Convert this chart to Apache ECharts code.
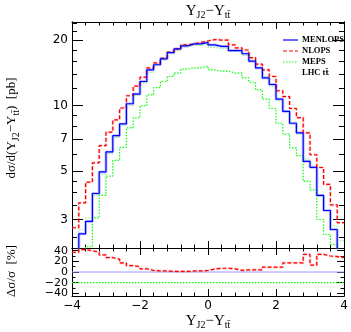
<!DOCTYPE html>
<html>
<head>
<meta charset="utf-8">
<script src="https://cdn.jsdelivr.net/npm/echarts@6.0.0/dist/echarts.min.js"></script>
<style>
  html, body { margin: 0; padding: 0; background: #fff; }
  #chart { width: 351px; height: 332px; }
</style>
</head>
<body>
<div id="chart"></div>
<script>
// 40 bins, width 0.2, from -4 to 4
var binLow = -4;
var binWidth = 0.2;

// d sigma / d(Y_J2 - Y_ttbar) [pb]
var menlops = [2.0, 2.58, 2.94, 3.95, 4.96, 6.13, 7.28, 8.24, 10.2, 11.3,
               12.9, 14.6, 15.4, 16.4, 17.5, 18.2, 18.8, 19.2, 19.2, 19.5,
               19.0, 18.7, 18.7, 17.9, 17.9, 17.3, 16.0, 14.9, 13.4, 12.5,
               10.7, 9.4, 8.3, 7.5, 5.55, 5.21, 3.87, 3.30, 2.70, 2.1];
var nlops = [2.75, 3.58, 4.45, 5.46, 6.55, 7.55, 8.6, 9.75, 11.1, 12.3,
             13.5, 14.9, 15.7, 16.5, 17.6, 18.2, 19.0, 19.2, 19.5, 19.8,
             20.1, 20.0, 20.0, 19.0, 18.4, 18.0, 16.6, 15.5, 14.6, 13.6,
             11.7, 11.0, 9.7, 8.8, 7.5, 5.95, 5.2, 4.35, 3.5, 2.9];
var meps = [1.8, 2.15, 2.25, 3.05, 3.87, 4.75, 5.6, 6.43, 7.9, 8.78,
            10.0, 11.2, 12.1, 12.9, 13.6, 14.1, 14.7, 14.9, 14.9, 15.2,
            14.6, 14.4, 14.4, 14.1, 14.1, 13.4, 12.8, 11.8, 10.7, 9.7,
            8.3, 7.4, 6.4, 5.9, 4.5, 4.1, 3.0, 2.56, 2.3, 2.0];
// pale dotted curve lying on top of MENLOPS
var mepsNorm = [2.05, 2.7, 3.05, 3.85, 4.85, 6.0, 7.15, 8.2, 10.0, 11.1,
                12.7, 14.2, 15.3, 16.2, 17.3, 17.9, 18.6, 18.9, 18.9, 19.2,
                18.5, 18.3, 18.3, 17.9, 17.8, 17.0, 16.2, 15.0, 13.6, 12.3,
                10.5, 9.4, 8.4, 7.4, 5.7, 5.2, 3.85, 3.3, 2.8, 2.4];

// lower panel, delta sigma / sigma [%]
var nlopsDev = [37, 42, 40, 37, 32, 27, 24, 17, 12, 10,
                6, 3, 2, 2, 1, 1, 1, 2, 2, 3,
                5.5, 7, 7, 6, 3, 4, 4, 4, 9, 9,
                9, 17, 17, 17, 33, 13, 33, 30, 29, 27];
var menlopsDev = 0;
var mepsDev = -20;

// ticks
var mainLabels = [3, 5, 7, 10, 20];
var mainMinor = [2.5, 3.5, 4, 4.5, 6, 8, 9, 12, 14, 16, 18, 22, 24];
var devLabelsA = [-40, 0, 40];
var devLabelsB = [-20, 20];
var devMajor = [-40, -20, 0, 20, 40];
var devMinor = [-30, -10, 10, 30];

function stepData(vals) {
    var d = [];
    for (var i = 0; i < vals.length; i++) {
        d.push([+(binLow + i * binWidth).toFixed(2), vals[i]]);
    }
    d.push([+(binLow + vals.length * binWidth).toFixed(2), vals[vals.length - 1]]);
    return d;
}
function flatData(v) {
    return [[binLow, v], [+(binLow + menlops.length * binWidth).toFixed(2), v]];
}

var black = '#000';
function minus(v) { return v < 0 ? '\u2212' + (-v) : '' + v; }

function xAx(grid, pos, labels) {
    return {
        type: 'value', gridIndex: grid, position: pos, min: -4, max: 4, interval: 2,
        axisLine: { show: true, onZero: false, lineStyle: { color: black, width: 1 } },
        axisTick: { show: true, inside: true, length: 7, lineStyle: { color: black } },
        minorTick: { show: true, splitNumber: 5, length: 3.5, lineStyle: { color: black } },
        axisLabel: labels ? { show: true, margin: 4, hideOverlap: false, showMinLabel: true, showMaxLabel: true,
            formatter: minus, color: black, fontFamily: 'DejaVu Sans', fontSize: 12 } : { show: false },
        splitLine: { show: false }
    };
}
function yAx(grid, pos, type, min, max, ticks, len, labels, fs) {
    return {
        type: type, gridIndex: grid, position: pos, min: min, max: max,
        axisLine: { show: true, onZero: false, lineStyle: { color: black, width: 1 } },
        axisTick: { show: true, inside: true, length: len, customValues: ticks, lineStyle: { color: black } },
        axisLabel: labels ? { show: true, margin: 4, customValues: labels, hideOverlap: false,
            showMinLabel: true, showMaxLabel: true, formatter: minus, color: black,
            fontFamily: 'DejaVu Sans', fontSize: fs } : { show: false },
        splitLine: { show: false }
    };
}

function stepLine(name, vals, x, y, color, width, type, z) {
    return {
        name: name, type: 'line', xAxisIndex: x, yAxisIndex: y, step: 'end',
        data: stepData(vals), symbol: 'none', silent: true, animation: false, z: z,
        lineStyle: { color: color, width: width, type: type }
    };
}

var sub = { fontFamily: 'Liberation Serif', fontSize: 10, padding: [9, 0, 0, 0] };
var big = { fontFamily: 'Liberation Serif', fontSize: 15, fill: black };
var mid = { fontFamily: 'Liberation Serif', fontSize: 13, fill: black };
var legendFont = { verticalAlign: 'middle', fontFamily: 'Liberation Serif', fontWeight: 'bold', fontSize: 8.5, fill: black };

var myChart = echarts.init(document.getElementById('chart'));
var option = {
    backgroundColor: '#fff',
    animation: false,
    grid: [
        { left: 72, top: 22, width: 272, height: 226, outerBoundsMode: 'none' },
        { left: 72, top: 248, width: 272, height: 48, outerBoundsMode: 'none' }
    ],
    xAxis: [
        xAx(0, 'bottom', false), xAx(0, 'top', false),
        xAx(1, 'bottom', true), xAx(1, 'top', false)
    ],
    yAxis: [
        yAx(0, 'left', 'log', 2.22, 24.2, mainLabels, 11, mainLabels, 12),
        yAx(0, 'left', 'log', 2.22, 24.2, mainMinor, 5, null),
        yAx(0, 'right', 'log', 2.22, 24.2, mainLabels, 11, null),
        yAx(0, 'right', 'log', 2.22, 24.2, mainMinor, 5, null),
        yAx(1, 'left', 'value', -45, 45, devMajor, 7, devLabelsA, 11),
        yAx(1, 'left', 'value', -45, 45, devMinor, 3.5, devLabelsB, 11),
        yAx(1, 'right', 'value', -45, 45, devMajor, 7, null),
        yAx(1, 'right', 'value', -45, 45, devMinor, 3.5, null)
    ],
    series: [
        stepLine('MENLOPS band', menlops, 0, 0, 'rgba(100,100,255,0.4)', 3, 'solid', 1),
        stepLine('NLOPS band', nlops, 0, 0, 'rgba(255,60,60,0.3)', 2.5, [4, 2], 1),
        stepLine('MEPS norm', mepsNorm, 0, 0, '#9cf09c', 1.2, [1.5, 1.5], 2),
        stepLine('MEPS', meps, 0, 0, '#00ff00', 1.2, [1.5, 1.5], 3),
        stepLine('NLOPS', nlops, 0, 0, '#ff0000', 1.2, [4, 2], 4),
        stepLine('MENLOPS', menlops, 0, 0, '#0000ff', 1.2, 'solid', 5),
        {
            type: 'line', xAxisIndex: 2, yAxisIndex: 4, data: flatData(menlopsDev),
            symbol: 'none', silent: true, z: 2, lineStyle: { color: '#9a9aff', width: 1 }
        },
        {
            type: 'line', xAxisIndex: 2, yAxisIndex: 4, data: flatData(mepsDev),
            symbol: 'none', silent: true, z: 3, lineStyle: { color: '#00ff00', width: 1.2, type: [1.5, 1.5] }
        },
        stepLine('NLOPS dev band', nlopsDev, 2, 4, 'rgba(255,60,60,0.3)', 2.5, [4, 2], 3),
        stepLine('NLOPS dev', nlopsDev, 2, 4, '#ff0000', 1.2, [4, 2], 4)
    ],
    graphic: [
        // title
        { type: 'text', x: 208, y: 11, style: {
            text: '{a|Y}{s|J2}{a|\u2212Y}{s|tt\u0304}', align: 'center', verticalAlign: 'middle',
            rich: { a: big, s: sub } } },
        // x axis title
        { type: 'text', x: 208, y: 321, style: {
            text: '{a|Y}{s|J2}{a|\u2212Y}{s|tt\u0304}', align: 'center', verticalAlign: 'middle',
            rich: { a: big, s: sub } } },
        // y axis titles
        { type: 'text', x: 12, y: 128, rotation: Math.PI / 2, style: {
            text: '{a|d\u03c3/d(Y}{s|J2}{a|\u2212Y}{s|tt\u0304}{a|)  [pb]}', align: 'center', verticalAlign: 'middle',
            rich: { a: mid, s: sub } } },
        { type: 'text', x: 12, y: 271, rotation: Math.PI / 2, style: {
            text: '\u0394\u03c3/\u03c3  [%]', align: 'center', verticalAlign: 'middle',
            fontFamily: 'Liberation Serif', fontSize: 13, fill: black } },
        // legend
        { type: 'line', shape: { x1: 283, y1: 40, x2: 298, y2: 40 }, style: { stroke: '#0000ff', lineWidth: 1.2 } },
        { type: 'line', shape: { x1: 283, y1: 51, x2: 298, y2: 51 }, style: { stroke: '#ff0000', lineWidth: 1.2, lineDash: [4, 2] } },
        { type: 'line', shape: { x1: 283, y1: 62, x2: 298, y2: 62 }, style: { stroke: '#00ff00', lineWidth: 1.2, lineDash: [1.5, 1.5] } },
        { type: 'text', x: 302, y: 40, style: Object.assign({ text: 'MENLOPS' }, legendFont) },
        { type: 'text', x: 302, y: 51, style: Object.assign({ text: 'NLOPS' }, legendFont) },
        { type: 'text', x: 302, y: 62, style: Object.assign({ text: 'MEPS' }, legendFont) },
        { type: 'text', x: 302, y: 73, style: Object.assign({
            text: '{a|LHC t}{b|t\u0304}',
            rich: { a: { fontFamily: 'Liberation Serif', fontWeight: 'bold', fontSize: 8.5, fill: black },
                    b: { fontFamily: 'DejaVu Serif', fontWeight: 'bold', fontSize: 7.5, fill: black } } }, legendFont) }
    ]
};
myChart.setOption(option);
window.addEventListener('resize', myChart.resize);
</script>
</body>
</html>
